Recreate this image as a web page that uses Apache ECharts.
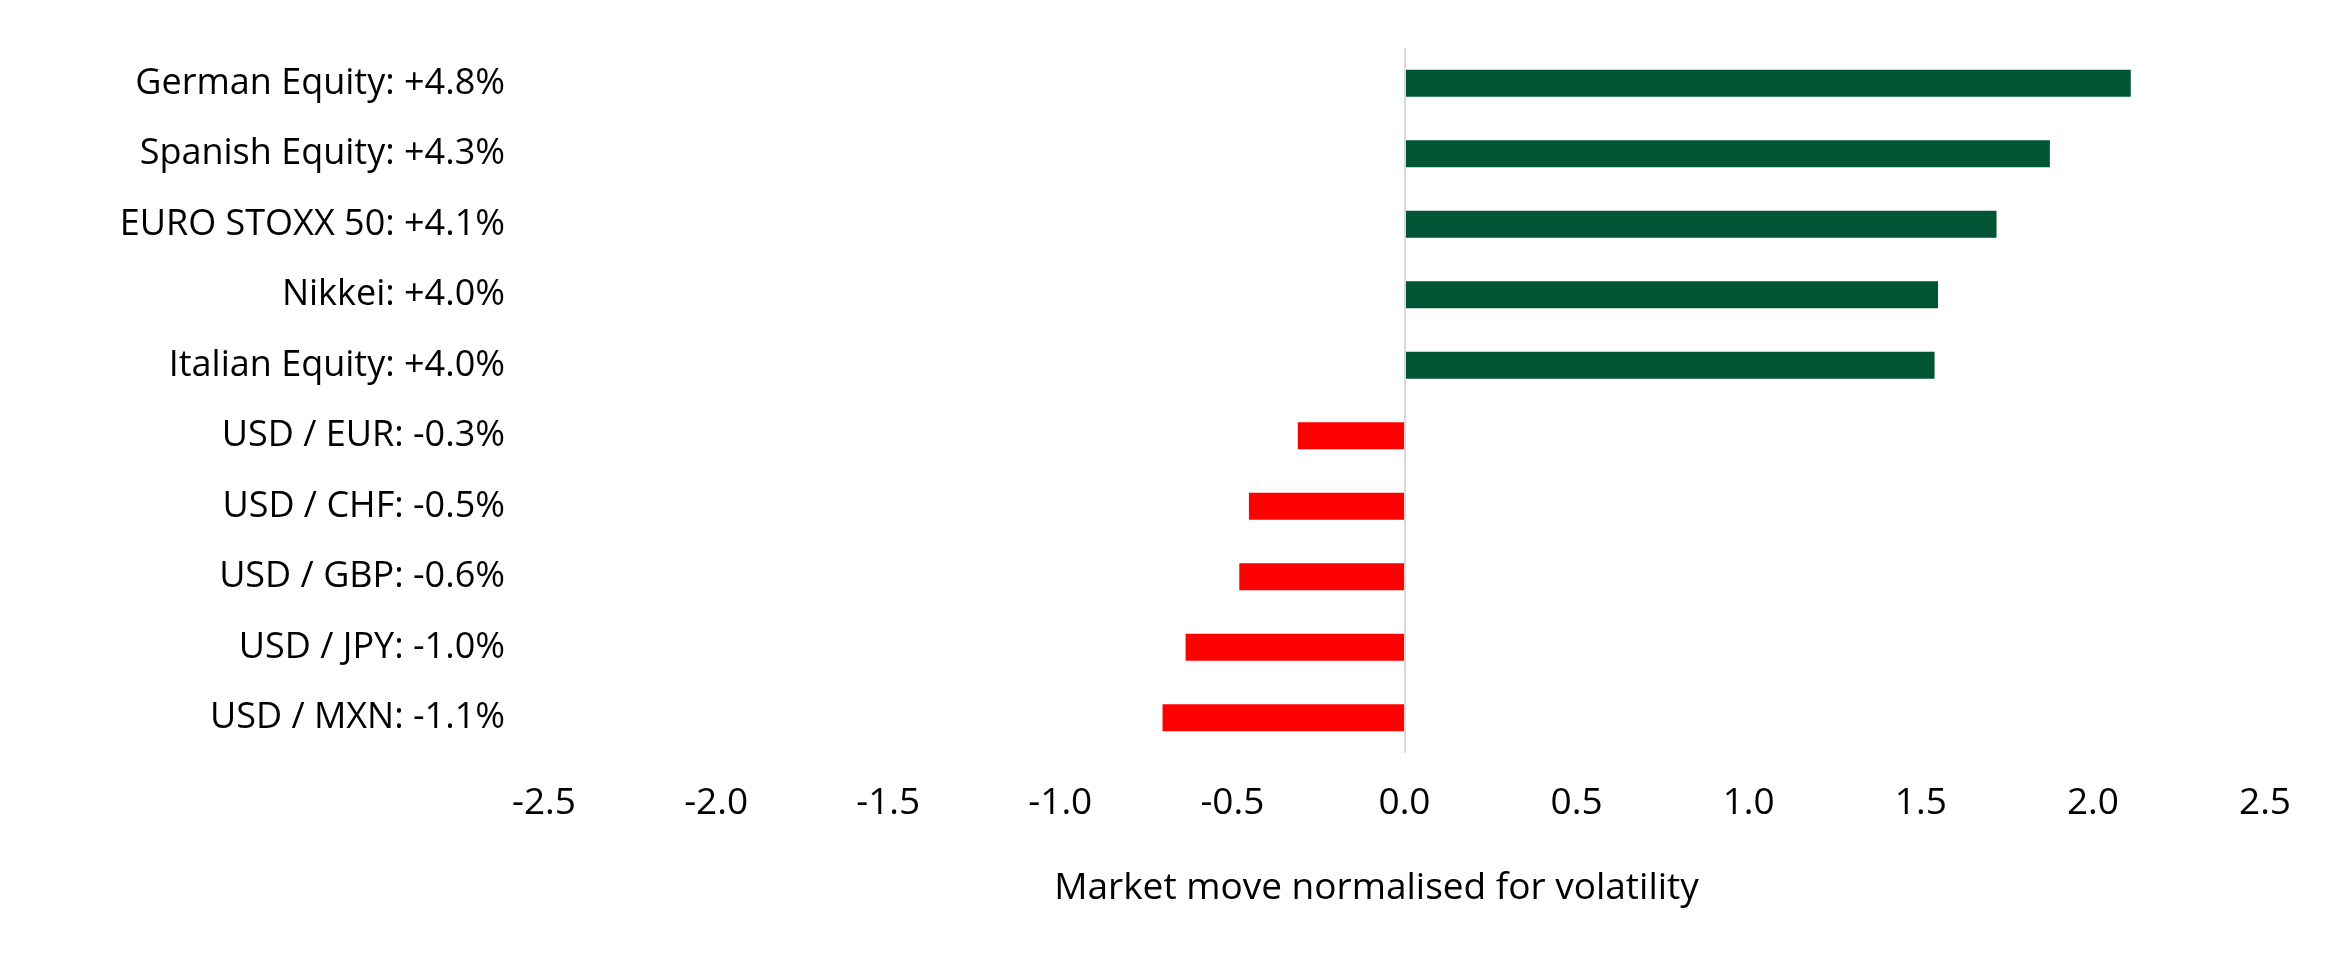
<!DOCTYPE html>
<html>
<head>
<meta charset="utf-8">
<script src="https://cdn.jsdelivr.net/npm/echarts@6/dist/echarts.min.js"></script>
<style>
  html, body { margin: 0; padding: 0; background: #fff; }
  #chart { width: 2339px; height: 953px; }
</style>
</head>
<body>
<div id="chart"></div>
<script>
var categories = [
  'German Equity: +4.8%',
  'Spanish Equity: +4.3%',
  'EURO STOXX 50: +4.1%',
  'Nikkei: +4.0%',
  'Italian Equity: +4.0%',
  'USD / EUR: -0.3%',
  'USD / CHF: -0.5%',
  'USD / GBP: -0.6%',
  'USD / JPY: -1.0%',
  'USD / MXN: -1.1%'
];
var normalisedMoves = [2.11, 1.875, 1.72, 1.55, 1.54, -0.31, -0.452, -0.48, -0.636, -0.703];
var axisMin = -2.5;
var axisMax = 2.5;
var axisStep = 0.5;

var chartDom = document.getElementById('chart');
var chart = echarts.init(chartDom);

var barData = [];
for (var i = 0; i < normalisedMoves.length; i++) {
  barData.push({
    value: normalisedMoves[i],
    itemStyle: { color: normalisedMoves[i] >= 0 ? '#005534' : '#ff0000' }
  });
}

var option = {
  animation: false,
  textStyle: { fontFamily: 'Open Sans' },
  grid: {
    left: 544,
    right: 74,
    top: 48,
    bottom: 200
  },
  xAxis: {
    type: 'value',
    min: axisMin,
    max: axisMax,
    interval: axisStep,
    axisLine: { show: false },
    axisTick: { show: false },
    splitLine: { show: false },
    axisLabel: {
      color: '#000',
      fontSize: 37,
      margin: 32,
      formatter: function (v) { return v.toFixed(1); }
    },
    name: 'Market move normalised for volatility',
    nameLocation: 'middle',
    nameGap: 117,
    nameTextStyle: {
      color: '#000',
      fontSize: 37,
      padding: [0, 56, 0, 0]
    }
  },
  yAxis: {
    type: 'category',
    inverse: true,
    data: categories,
    axisLine: { show: false },
    axisTick: { show: false },
    axisLabel: {
      color: '#000',
      fontSize: 36,
      margin: 39
    }
  },
  series: [
    {
      type: 'bar',
      data: barData,
      barWidth: '38%',
      markLine: {
        silent: true,
        symbol: ['none', 'none'],
        label: { show: false },
        lineStyle: { color: '#d9d9d9', width: 2, type: 'solid' },
        data: [{ xAxis: 0 }]
      }
    }
  ]
};

chart.setOption(option);
</script>
</body>
</html>
